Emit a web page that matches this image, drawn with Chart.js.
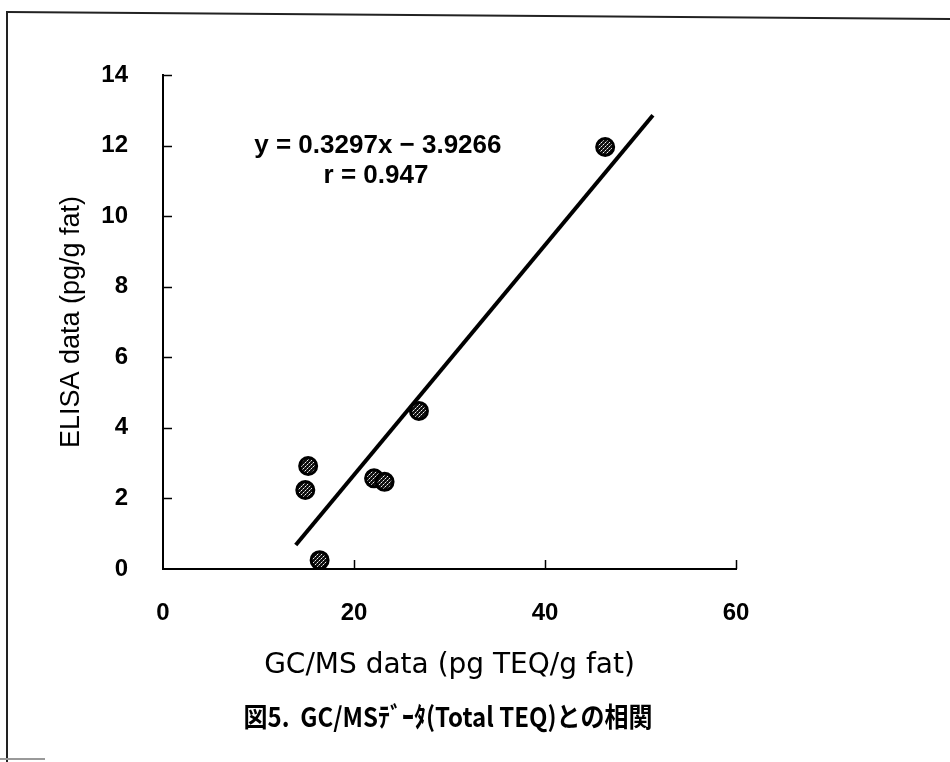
<!DOCTYPE html>
<html><head><meta charset="utf-8">
<script src="https://cdn.jsdelivr.net/npm/chart.js@4/dist/chart.umd.min.js"></script>
<style>html,body{margin:0;padding:0;background:#fff}#wrap{width:950px;height:762px}</style>
</head><body><div id="wrap"><canvas id="c" width="950" height="762"></canvas></div>
<script>
// ---- data ----
const gcmsValues  = [46.3, 26.8, 15.2, 14.9, 22.1, 23.2, 16.4];
const elisaValues = [11.96, 4.48, 2.92, 2.24, 2.57, 2.47, 0.25];
const fitLineX = [13.9, 51.3];
const fitLineY = [0.68, 12.86];
const xTickValues = [0, 20, 40, 60];
const yTickValues = [0, 2, 4, 6, 8, 10, 12, 14];
const equationText = 'y = 0.3297x − 3.9266';
const rText = 'r = 0.947';
const equationPos = [22.5, 12.0];
const rPos = [22.3, 11.15];
const xTitle = 'GC/MS data (pg TEQ/g fat)';
const yTitle = 'ELISA data (pg/g fat)';
const caption = '図5.  GC/MSﾃﾞｰﾀ(Total TEQ)との相関';

const SANS = '"Liberation Sans", Arial, sans-serif';
const WIDE = '"DejaVu Sans", "Liberation Sans", sans-serif';
const CJK = '"Noto Sans CJK JP", "Liberation Sans", sans-serif';

// hatched marker fill
function makePattern() {
  const t = document.createElement('canvas');
  t.width = 4; t.height = 4;
  const g = t.getContext('2d');
  g.fillStyle = '#111111'; g.fillRect(0, 0, 4, 4);
  g.fillStyle = 'rgba(255,255,255,0.95)';
  [[3,0],[1,2]].forEach(p => g.fillRect(p[0], p[1], 1, 1));
  g.fillStyle = 'rgba(255,255,255,0.5)';
  [[2,1],[0,3]].forEach(p => g.fillRect(p[0], p[1], 1, 1));
  return document.getElementById('c').getContext('2d').createPattern(t, 'repeat');
}

const pointData = gcmsValues.map((x, i) => ({x, y: elisaValues[i]}));
const lineData = fitLineX.map((x, i) => ({x, y: fitLineY[i]}));

const decor = {
  id: 'decor',
  afterDraw(chart) {
    const {ctx, scales: {x, y}} = chart;
    ctx.save();
    // inside tick marks
    ctx.strokeStyle = '#000'; ctx.lineWidth = 1.5;
    yTickValues.filter(v => v > 0).forEach(v => {
      const py = Math.round(y.getPixelForValue(v)) + 0.5;
      ctx.beginPath(); ctx.moveTo(x.left, py); ctx.lineTo(x.left + 9, py); ctx.stroke();
    });
    xTickValues.filter(v => v > 0).forEach(v => {
      const px = Math.round(x.getPixelForValue(v)) + 0.5;
      ctx.beginPath(); ctx.moveTo(px, y.bottom); ctx.lineTo(px, y.bottom - 9); ctx.stroke();
    });
    // equation text
    ctx.fillStyle = '#000';
    ctx.font = 'bold 26px ' + SANS;
    ctx.textAlign = 'center'; ctx.textBaseline = 'middle';
    ctx.fillText(equationText, x.getPixelForValue(equationPos[0]), y.getPixelForValue(equationPos[1]));
    ctx.fillText(rText, x.getPixelForValue(rPos[0]), y.getPixelForValue(rPos[1]));
    // caption (condensed to the reference width)
    ctx.font = 'bold 27px ' + CJK;
    const w = ctx.measureText(caption).width;
    const sx = Math.min(1, 409 / w);
    ctx.save();
    ctx.translate(448, 717);
    ctx.scale(sx, 1);
    ctx.fillText(caption, 0, 0);
    ctx.restore();
    // page frame
    ctx.strokeStyle = '#222'; ctx.lineWidth = 2;
    ctx.beginPath(); ctx.moveTo(7, 12); ctx.lineTo(950, 19); ctx.stroke();
    ctx.beginPath(); ctx.moveTo(7, 11); ctx.lineTo(7, 762); ctx.stroke();
    ctx.strokeStyle = '#999'; ctx.lineWidth = 2;
    ctx.beginPath(); ctx.moveTo(0, 759); ctx.lineTo(45, 759); ctx.stroke();
    ctx.restore();
  }
};

new Chart(document.getElementById('c'), {
  type: 'scatter',
  data: {
    datasets: [
      {
        label: 'data',
        data: pointData,
        backgroundColor: makePattern(),
        borderColor: '#000',
        borderWidth: 3,
        pointRadius: 8.5,
        pointHoverRadius: 8.5
      },
      {
        type: 'line',
        label: 'fit',
        data: lineData,
        borderColor: '#000',
        borderWidth: 4,
        pointRadius: 0,
        fill: false,
        tension: 0
      }
    ]
  },
  options: {
    responsive: false,
    devicePixelRatio: 1,
    animation: false,
    layout: {padding: {left: 0, right: 214, top: 75, bottom: 70}},
    plugins: {
      legend: {display: false},
      tooltip: {enabled: false},
      title: {display: false}
    },
    scales: {
      x: {
        type: 'linear', min: 0, max: 60,
        afterBuildTicks: s => { s.ticks = xTickValues.map(v => ({value: v})); },
        ticks: {color: '#000', font: {family: SANS, size: 24, weight: 'bold'}, padding: 22, maxRotation: 0},
        grid: {display: false},
        border: {display: true, color: '#000', width: 2},
        title: {display: true, text: xTitle, color: '#000', font: {family: WIDE, size: 28}, padding: {top: 0, bottom: 9}},
        afterFit: s => { s.height = 123; }
      },
      y: {
        type: 'linear', min: 0, max: 14,
        afterBuildTicks: s => { s.ticks = yTickValues.map(v => ({value: v})); },
        ticks: {color: '#000', font: {family: SANS, size: 24, weight: 'bold'}, padding: 27},
        grid: {display: false},
        border: {display: true, color: '#000', width: 2},
        title: {display: true, text: yTitle, color: '#000', font: {family: SANS, size: 27}, padding: {top: 55, bottom: 0}},
        afterFit: s => { s.width = 163; }
      }
    }
  },
  plugins: [decor]
});
</script>
</body></html>
